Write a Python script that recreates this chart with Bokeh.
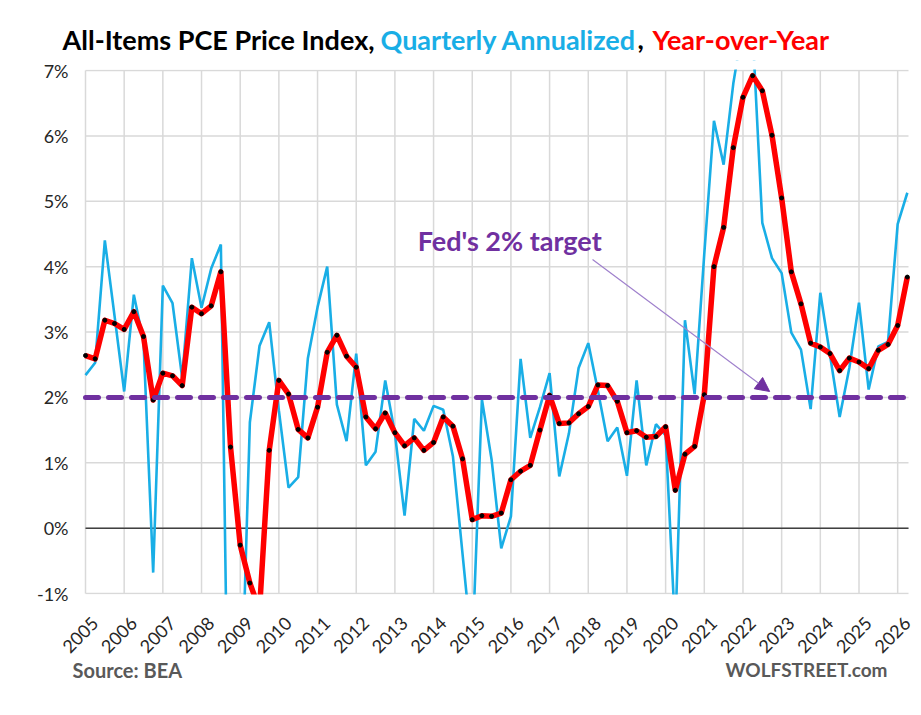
import math
from bokeh.plotting import figure
from bokeh.layouts import column
from bokeh.models import Range1d, Arrow, NormalHead, ColumnDataSource
from bokeh.core.properties import value
from bokeh.embed import file_html
from bokeh.resources import INLINE

# ---------------- data ----------------
year_labels = ["2005", "2006", "2007", "2008", "2009", "2010", "2011", "2012", "2013", "2014", "2015",
               "2016", "2017", "2018", "2019", "2020", "2021", "2022", "2023", "2024", "2025", "2026"]
quarter_names = ["Q1", "Q2", "Q3", "Q4"]

# Quarterly annualized change, % (86 quarters, 2005Q1 .. 2026Q2)
qtr_annualized = [
    2.34, 2.53, 4.40, 3.25,    # 2005
    2.09, 3.57, 2.85, -0.68,   # 2006
    3.71, 3.44, 2.30, 4.13,    # 2007
    3.37, 3.97, 4.34, -6.00,   # 2008
    -3.35, 1.62, 2.79, 3.15,   # 2009
    1.80, 0.62, 0.78, 2.60,    # 2010
    3.38, 4.00, 1.89, 1.33,    # 2011
    2.67, 0.96, 1.17, 2.26,    # 2012
    1.45, 0.19, 1.67, 1.49,    # 2013
    1.87, 1.81, 1.10, -0.40,   # 2014
    -1.90, 1.97, 1.05, -0.31,  # 2015
    0.18, 2.59, 1.38, 1.85,    # 2016
    2.37, 0.79, 1.45, 2.45,    # 2017
    2.83, 2.10, 1.33, 1.54,    # 2018
    0.80, 2.26, 0.96, 1.59,    # 2019
    1.42, -1.60, 3.18, 2.05,   # 2020
    4.20, 6.23, 5.56, 6.80,    # 2021
    7.70, 7.60, 4.67, 4.13,    # 2022
    3.90, 2.99, 2.73, 1.82,    # 2023
    3.60, 2.65, 1.70, 2.45,    # 2024
    3.45, 2.12, 2.78, 2.85,    # 2025
    4.65, 5.13,                # 2026
]

# Year-over-year change, %
year_over_year = [
    2.64, 2.59, 3.18, 3.13,    # 2005
    3.04, 3.31, 2.93, 1.96,    # 2006
    2.37, 2.33, 2.18, 3.38,    # 2007
    3.28, 3.40, 3.92, 1.24,    # 2008
    -0.26, -0.84, -1.25, 1.19, # 2009
    2.26, 2.05, 1.51, 1.38,    # 2010
    1.85, 2.69, 2.95, 2.63,    # 2011
    2.46, 1.70, 1.52, 1.76,    # 2012
    1.46, 1.26, 1.38, 1.19,    # 2013
    1.31, 1.70, 1.56, 1.06,    # 2014
    0.13, 0.19, 0.18, 0.23,    # 2015
    0.74, 0.87, 0.96, 1.50,    # 2016
    2.03, 1.60, 1.61, 1.75,    # 2017
    1.86, 2.19, 2.18, 1.94,    # 2018
    1.46, 1.49, 1.39, 1.40,    # 2019
    1.55, 0.58, 1.13, 1.25,    # 2020
    2.04, 4.00, 4.60, 5.82,    # 2021
    6.59, 6.92, 6.69, 6.01,    # 2022
    5.05, 3.92, 3.43, 2.83,    # 2023
    2.77, 2.67, 2.41, 2.60,    # 2024
    2.54, 2.44, 2.72, 2.81,    # 2025
    3.10, 3.84,                # 2026
]

fed_target = 2.0
y_ticks = [-1, 0, 1, 2, 3, 4, 5, 6, 7]
y_tick_labels = ["-1%", "0%", "1%", "2%", "3%", "4%", "5%", "6%", "7%"]

title_parts = ["All-Items PCE Price Index,", "Quarterly Annualized", ",", "Year-over-Year"]
title_colors = ["#000000", "#19AEE6", "#000000", "#FF0000"]
footer_texts = ["Source: BEA", "WOLFSTREET.com"]

periods = [f"{y}{q}" for y in year_labels for q in quarter_names][:len(year_over_year)]
x_pos = [int(p[:4]) + quarter_names.index(p[4:]) / 4 for p in periods]
year_ticks = [int(y) for y in year_labels]
src = ColumnDataSource(dict(x=x_pos, qa=qtr_annualized, yoy=year_over_year, period=periods))

# ---------------- layout geometry (pixels) ----------------
FONT = "Lato"
W = 916
PLOT_L, PLOT_R, PLOT_T, PLOT_B = 85, 908, 70, 593   # plot area on the page
TITLE_H = 60
PAD_B = 12                                           # room under the plot area for "-1%"
MAIN_H = PLOT_B + PAD_B - TITLE_H
FOOT_H = 108
X0, X1 = year_ticks[0], 2026.28                      # data x at PLOT_L / PLOT_R
Y0, Y1 = y_ticks[0], y_ticks[-1]
ppx = (PLOT_R - PLOT_L) / (X1 - X0)
ppy = (PLOT_B - PLOT_T) / (Y1 - Y0)
x_range = Range1d(X0 - PLOT_L / ppx, X1 + (W - PLOT_R) / ppx)
y_range = Range1d(Y0 - PAD_B / ppy, Y1 + (PLOT_T - TITLE_H) / ppy)


def bare(height, xr, yr):
    f = figure(width=W, height=height, output_backend="svg", toolbar_location=None,
               x_range=xr, y_range=yr, x_axis_location=None, y_axis_location=None,
               min_border=0, min_border_left=0, min_border_right=0,
               min_border_top=0, min_border_bottom=0)
    f.grid.visible = False
    f.outline_line_color = None
    f.background_fill_color = "white"
    f.border_fill_color = "white"
    return f


# ---------------- title strip (pixel coordinates) ----------------
tf = bare(TITLE_H, Range1d(0, W), Range1d(0, TITLE_H))
tsrc = ColumnDataSource(dict(x=[62, 380, 637, 652], y=[TITLE_H - 39] * 4,
                             t=title_parts, c=title_colors))
tf.text("x", "y", text="t", text_color="c", source=tsrc, text_font=value(FONT),
        text_font_style="bold", text_font_size="27px", text_baseline="middle", text_align="left")

# ---------------- main chart ----------------
p = bare(MAIN_H, x_range, y_range)

# grid
p.segment(x0=year_ticks, x1=year_ticks, y0=[Y0] * len(year_ticks), y1=[Y1] * len(year_ticks),
          line_color="#D9D9D9", line_width=1.5)
p.segment(x0=[X0] * len(y_ticks), x1=[X1] * len(y_ticks), y0=y_ticks, y1=y_ticks,
          line_color="#D9D9D9", line_width=1.5)
p.segment(x0=[X0], x1=[X1], y0=[0], y1=[0], line_color="#404040", line_width=1.5)

# y tick labels
p.text(x=[X0] * len(y_ticks), y=y_ticks, text=y_tick_labels, x_offset=-17,
       text_font=value(FONT), text_font_size="18px", text_color="#262626",
       text_align="right", text_baseline="middle")

# series
p.line("x", "qa", source=src, line_color="#19AEE6", line_width=2.6)
p.line("x", "yoy", source=src, line_color="#FF0000", line_width=5.5, line_join="round")
p.scatter("x", "yoy", source=src, size=4, color="black")

# keep the series inside the -1% .. 7% plot area
p.quad(left=[X0 - 0.1] * 2, right=[X1 + 0.3] * 2,
       bottom=[Y1 + 1.0 / ppy, y_range.start - 1], top=[y_range.end + 1, Y0 - 1.0 / ppy],
       fill_color="white", line_color=None)

# Fed target
p.segment(x0=[X0], x1=[X1], y0=[fed_target], y1=[fed_target], line_color="#7030A0",
          line_width=5, line_dash="13 10", line_cap="round")
p.add_layout(Arrow(x_start=2018.11, y_start=4.11, x_end=2022.69, y_end=2.09,
                   line_color="#9F80CC", line_width=1.2,
                   end=NormalHead(size=14, fill_color="#7030A0", line_color="#7030A0")))
p.text(x=[2013.59], y=[4.40], text=["Fed's 2% target"], text_font=value(FONT),
       text_font_style="bold", text_font_size="27px", text_color="#7030A0",
       text_baseline="middle", text_align="left")

# ---------------- footer strip: year labels + source ----------------
FOOT_TOP = PLOT_B + PAD_B
ff = bare(FOOT_H, Range1d(0, W), Range1d(0, FOOT_H))
ff.extra_x_ranges = {"yr": x_range}
ff.text(x=year_ticks, y=[FOOT_H - (615 - FOOT_TOP)] * len(year_ticks), text=year_labels,
        x_range_name="yr", angle=math.pi / 4, x_offset=5, text_font=value(FONT),
        text_font_size="18px", text_color="#262626", text_align="right", text_baseline="top")
fsrc = ColumnDataSource(dict(x=[72, 887], y=[FOOT_H - (669 - FOOT_TOP)] * 2, t=footer_texts,
                             a=["left", "right"], s=["20px", "19px"]))
ff.text("x", "y", text="t", text_align="a", text_font_size="s", source=fsrc,
        text_font=value(FONT), text_font_style="bold", text_color="#595959",
        text_baseline="middle")

layout = column(tf, p, ff, spacing=0)
open("out.html", "w").write(file_html(layout, INLINE))
